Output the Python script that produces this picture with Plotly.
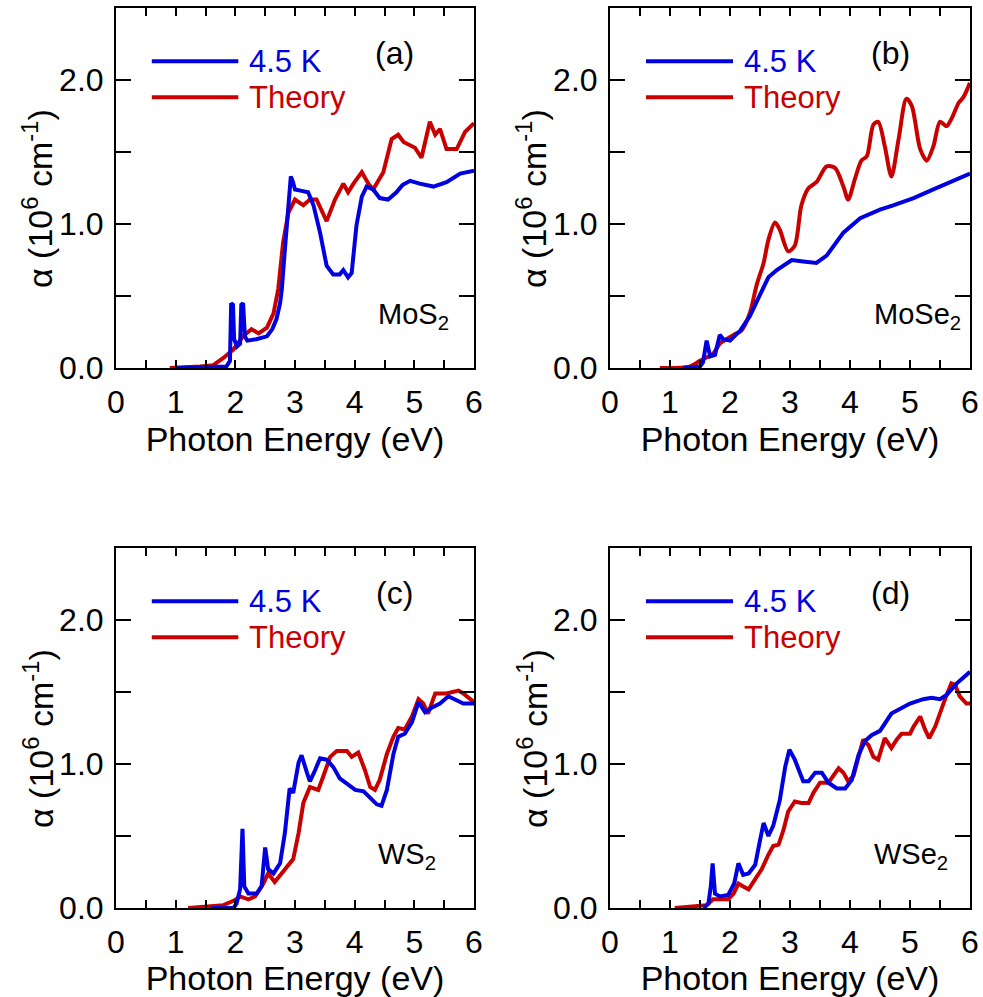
import plotly.graph_objects as go

# ---------------- data ----------------
panel_tags = ["(a)", "(b)", "(c)", "(d)"]
materials = ["MoS<sub>2</sub>", "MoSe<sub>2</sub>", "WS<sub>2</sub>", "WSe<sub>2</sub>"]
series_names = ["4.5 K", "Theory"]
x_title = "Photon Energy (eV)"
y_title = "\u03b1 (10<sup>6</sup> cm<sup>-1</sup>)"

x_tick_vals = [0, 1, 2, 3, 4, 5, 6]
x_tick_text = ["0", "1", "2", "3", "4", "5", "6"]
y_tick_vals = [0, 1.0, 2.0]
y_tick_text = ["0.0", "1.0", "2.0"]

# (a) MoS2
mos2_exp_e = [1.0, 1.5, 1.85, 1.91, 1.93, 1.96, 1.98, 2.03, 2.08, 2.10, 2.13, 2.16, 2.2, 2.35,
              2.53, 2.62, 2.69, 2.75, 2.78, 2.83, 2.89, 2.93, 2.96, 3.0, 3.11, 3.22, 3.31, 3.42,
              3.53, 3.64, 3.75, 3.81, 3.89, 3.95, 4.03, 4.12, 4.2, 4.31, 4.42, 4.56, 4.7, 4.8,
              4.93, 5.09, 5.32, 5.54, 5.77, 6.0]
mos2_exp_a = [0, 0.005, 0.01, 0.05, 0.45, 0.44, 0.2, 0.15, 0.17, 0.44, 0.45, 0.22, 0.19, 0.2,
              0.22, 0.27, 0.34, 0.45, 0.55, 0.82, 1.17, 1.33, 1.30, 1.24, 1.23, 1.22, 1.13, 0.94,
              0.71, 0.65, 0.65, 0.68, 0.63, 0.66, 0.99, 1.19, 1.26, 1.24, 1.18, 1.17, 1.22, 1.27,
              1.30, 1.28, 1.26, 1.29, 1.35, 1.37]
mos2_th_e = [0.9, 1.2, 1.41, 1.63, 1.8, 1.97, 2.13, 2.27, 2.39, 2.53, 2.64, 2.72, 2.8, 2.89,
             3.0, 3.14, 3.25, 3.36, 3.53, 3.67, 3.81, 3.89, 3.98, 4.12, 4.23, 4.31, 4.48, 4.62,
             4.73, 4.82, 5.01, 5.12, 5.26, 5.35, 5.43, 5.54, 5.71, 5.85, 6.0]
mos2_th_a = [0, 0.003, 0.01, 0.02, 0.07, 0.13, 0.22, 0.27, 0.24, 0.28, 0.38, 0.55, 0.87, 1.08,
             1.17, 1.13, 1.17, 1.17, 1.02, 1.17, 1.28, 1.22, 1.28, 1.36, 1.28, 1.24, 1.36, 1.59,
             1.62, 1.57, 1.53, 1.46, 1.71, 1.62, 1.66, 1.52, 1.52, 1.64, 1.70]

# (b) MoSe2
mose2_exp_e = [1.22, 1.5, 1.55, 1.57, 1.61, 1.67, 1.75, 1.83, 1.89, 2.0, 2.17, 2.33, 2.5, 2.64,
               2.78, 3.03, 3.22, 3.44, 3.61, 3.89, 4.17, 4.5, 4.72, 5.06, 5.39, 5.67, 6.0]
mose2_exp_a = [0, 0.01, 0.04, 0.1, 0.19, 0.08, 0.09, 0.23, 0.2, 0.19, 0.26, 0.36, 0.5, 0.63,
               0.68, 0.75, 0.74, 0.73, 0.78, 0.94, 1.04, 1.10, 1.13, 1.18, 1.24, 1.29, 1.35]
mose2_th_e = [0.83, 1.33, 1.5, 1.72, 1.83, 1.94, 2.06, 2.19, 2.33, 2.44, 2.56, 2.64, 2.75, 2.83,
              2.97, 3.08, 3.19, 3.31, 3.44, 3.61, 3.75, 3.89, 3.97, 4.08, 4.19, 4.28, 4.39, 4.47,
              4.58, 4.69, 4.81, 4.94, 5.03, 5.17, 5.28, 5.39, 5.5, 5.61, 5.69, 5.81, 5.89, 6.0]
mose2_th_a = [0, 0.01, 0.05, 0.10, 0.17, 0.2, 0.23, 0.26, 0.38, 0.57, 0.73, 0.89, 1.01, 0.96,
              0.81, 0.85, 1.13, 1.25, 1.29, 1.40, 1.39, 1.26, 1.17, 1.31, 1.44, 1.47, 1.69, 1.71,
              1.54, 1.33, 1.59, 1.87, 1.82, 1.52, 1.44, 1.54, 1.71, 1.68, 1.73, 1.84, 1.88, 1.98]

# (c) WS2
ws2_exp_e = [1.6, 1.97, 2.02, 2.08, 2.12, 2.15, 2.22, 2.36, 2.44, 2.5, 2.55, 2.64, 2.75, 2.83,
             2.91, 2.97, 3.06, 3.11, 3.2, 3.25, 3.34, 3.42, 3.53, 3.64, 3.75, 3.87, 4.01, 4.15,
             4.26, 4.37, 4.45, 4.54, 4.65, 4.73, 4.84, 4.96, 5.07, 5.18, 5.29, 5.43, 5.57, 5.71,
             5.82, 6.0]
ws2_exp_a = [0, 0, 0.03, 0.13, 0.55, 0.15, 0.10, 0.10, 0.15, 0.42, 0.27, 0.24, 0.31, 0.52,
             0.83, 0.80, 1.01, 1.06, 0.94, 0.88, 0.96, 1.04, 1.03, 0.98, 0.90, 0.86, 0.82, 0.81,
             0.76, 0.72, 0.71, 0.82, 1.07, 1.19, 1.21, 1.29, 1.43, 1.36, 1.39, 1.42, 1.47, 1.44,
             1.42, 1.42]
ws2_th_e = [1.21, 1.58, 1.8, 1.97, 2.08, 2.22, 2.33, 2.47, 2.55, 2.66, 2.78, 2.89, 2.97, 3.06,
            3.14, 3.25, 3.39, 3.47, 3.59, 3.70, 3.87, 3.95, 4.06, 4.17, 4.26, 4.34, 4.42, 4.54,
            4.65, 4.73, 4.84, 4.96, 5.07, 5.15, 5.23, 5.35, 5.54, 5.74, 5.82, 6.0]
ws2_th_a = [0, 0.01, 0.02, 0.05, 0.08, 0.06, 0.08, 0.17, 0.24, 0.18, 0.24, 0.29, 0.34, 0.52,
            0.73, 0.84, 0.82, 0.91, 1.05, 1.09, 1.09, 1.05, 1.08, 0.96, 0.84, 0.82, 0.89, 1.07,
            1.19, 1.25, 1.24, 1.33, 1.45, 1.42, 1.35, 1.49, 1.49, 1.51, 1.49, 1.43]

# (d) WSe2
wse2_exp_e = [1.56, 1.64, 1.68, 1.71, 1.75, 1.83, 1.97, 2.07, 2.14, 2.22, 2.31, 2.42, 2.5, 2.56,
              2.64, 2.72, 2.83, 2.92, 2.99, 3.08, 3.22, 3.31, 3.42, 3.53, 3.64, 3.78, 3.92, 4.03,
              4.14, 4.25, 4.36, 4.5, 4.69, 4.83, 5.0, 5.22, 5.36, 5.5, 5.61, 5.78, 6.0]
wse2_exp_a = [0, 0.03, 0.15, 0.31, 0.10, 0.08, 0.09, 0.17, 0.31, 0.23, 0.24, 0.30, 0.47, 0.59,
              0.50, 0.57, 0.75, 0.98, 1.10, 1.03, 0.88, 0.88, 0.94, 0.94, 0.87, 0.83, 0.83, 0.89,
              1.06, 1.16, 1.20, 1.23, 1.35, 1.38, 1.42, 1.45, 1.46, 1.45, 1.48, 1.56, 1.64]
wse2_th_e = [1.08, 1.44, 1.61, 1.72, 1.83, 1.97, 2.06, 2.14, 2.22, 2.31, 2.42, 2.53, 2.64, 2.72,
             2.81, 2.89, 2.97, 3.08, 3.19, 3.31, 3.39, 3.5, 3.64, 3.81, 3.89, 3.97, 4.06, 4.14,
             4.22, 4.31, 4.39, 4.47, 4.58, 4.69, 4.78, 4.86, 5.0, 5.06, 5.17, 5.25, 5.32, 5.42,
             5.5, 5.61, 5.69, 5.75, 5.83, 5.94, 6.0]
wse2_th_a = [0, 0.01, 0.02, 0.06, 0.06, 0.06, 0.10, 0.17, 0.15, 0.13, 0.20, 0.27, 0.37, 0.43,
             0.44, 0.54, 0.67, 0.74, 0.73, 0.73, 0.80, 0.87, 0.87, 0.97, 0.94, 0.88, 0.92, 1.05,
             1.17, 1.13, 1.05, 1.03, 1.18, 1.11, 1.17, 1.21, 1.21, 1.26, 1.33, 1.24, 1.18, 1.26,
             1.36, 1.48, 1.56, 1.55, 1.47, 1.42, 1.42]

exp_series = [(mos2_exp_e, mos2_exp_a), (mose2_exp_e, mose2_exp_a),
              (ws2_exp_e, ws2_exp_a), (wse2_exp_e, wse2_exp_a)]
th_series = [(mos2_th_e, mos2_th_a), (mose2_th_e, mose2_th_a),
             (ws2_th_e, ws2_th_a), (wse2_th_e, wse2_th_a)]

# ---------------- styling ----------------
W, H = 983, 997
BLUE = "#0000e0"
RED = "#c80000"
FONT = "Liberation Sans, Arial, Helvetica, sans-serif"

x_domains = [[116 / W, 474 / W], [610 / W, 970 / W]]
y_domains = [[1 - 368 / H, 1 - 8 / H], [1 - 908 / H, 1 - 548 / H]]
y_title_x = [38 / W, 532 / W]
y_title_y = [1 - 199 / H, 1 - 739 / H]

fig = go.Figure()
layout = dict(
    width=W, height=H,
    margin=dict(l=0, r=0, t=0, b=0),
    paper_bgcolor="white", plot_bgcolor="white",
    showlegend=False,
    font=dict(family=FONT, color="black", size=30),
)

shapes = []
annotations = []
for i in range(4):
    row, col = divmod(i, 2)
    sfx = "" if i == 0 else str(i + 1)
    xa, ya = "x" + sfx, "y" + sfx
    fig.add_trace(go.Scatter(x=th_series[i][0], y=th_series[i][1], mode="lines",
                             name=series_names[1], xaxis=xa, yaxis=ya,
                             line=dict(color=RED, width=4,
                                       shape="spline" if i == 1 else "linear",
                                       smoothing=0.8)))
    fig.add_trace(go.Scatter(x=exp_series[i][0], y=exp_series[i][1], mode="lines",
                             name=series_names[0], xaxis=xa, yaxis=ya,
                             line=dict(color=BLUE, width=4)))
    axis_common = dict(showline=True, linecolor="black", linewidth=2, mirror="allticks",
                       ticks="inside", tickcolor="black", tickwidth=2,
                       showgrid=False, zeroline=False, automargin=False,
                       tickfont=dict(family=FONT, size=32, color="black"),
                       tickmode="array")
    layout["xaxis" + sfx] = dict(axis_common, domain=x_domains[col], range=[0, 6],
                                  anchor=ya, tickvals=x_tick_vals, ticktext=x_tick_text,
                                  ticklen=8, ticklabelstandoff=5,
                                  minor=dict(dtick=0.5, tick0=0, ticks="inside", ticklen=8,
                                             tickwidth=2, tickcolor="black", showgrid=False),
                                  title=dict(text=x_title,
                                             font=dict(family=FONT, size=34), standoff=8))
    layout["yaxis" + sfx] = dict(axis_common, domain=y_domains[row], range=[0, 2.5],
                                  anchor=xa, tickvals=y_tick_vals, ticktext=y_tick_text,
                                  ticklen=15, ticklabelstandoff=4,
                                  minor=dict(dtick=0.5, tick0=0, ticks="inside", ticklen=15,
                                             tickwidth=2, tickcolor="black", showgrid=False))
    annotations.append(dict(xref="paper", yref="paper", x=y_title_x[col], y=y_title_y[row],
                            xanchor="center", yanchor="middle", textangle=-90,
                            text=y_title, showarrow=False,
                            font=dict(family=FONT, size=34, color="black")))
    # legend drawn inside the panel
    for j, (col_c, yy) in enumerate([(BLUE, 2.13), (RED, 1.88)]):
        shapes.append(dict(type="line", xref=xa, yref=ya, x0=0.6, x1=2.05, y0=yy, y1=yy,
                           line=dict(color=col_c, width=4)))
        annotations.append(dict(xref=xa, yref=ya, x=2.2, y=yy, xanchor="left", yanchor="middle",
                                text=series_names[j], showarrow=False,
                                font=dict(family=FONT, size=31, color=col_c)))
    annotations.append(dict(xref=xa, yref=ya, x=4.67, y=2.19, xanchor="center", yanchor="middle",
                            text=panel_tags[i], showarrow=False,
                            font=dict(family=FONT, size=32, color="black")))
    annotations.append(dict(xref=xa, yref=ya, x=4.36, y=0.36, xanchor="left", yanchor="middle",
                            text=materials[i], showarrow=False,
                            font=dict(family=FONT, size=29, color="black")))

layout["shapes"] = shapes
layout["annotations"] = annotations
fig.update_layout(**layout)
fig.write_html("out.html")
